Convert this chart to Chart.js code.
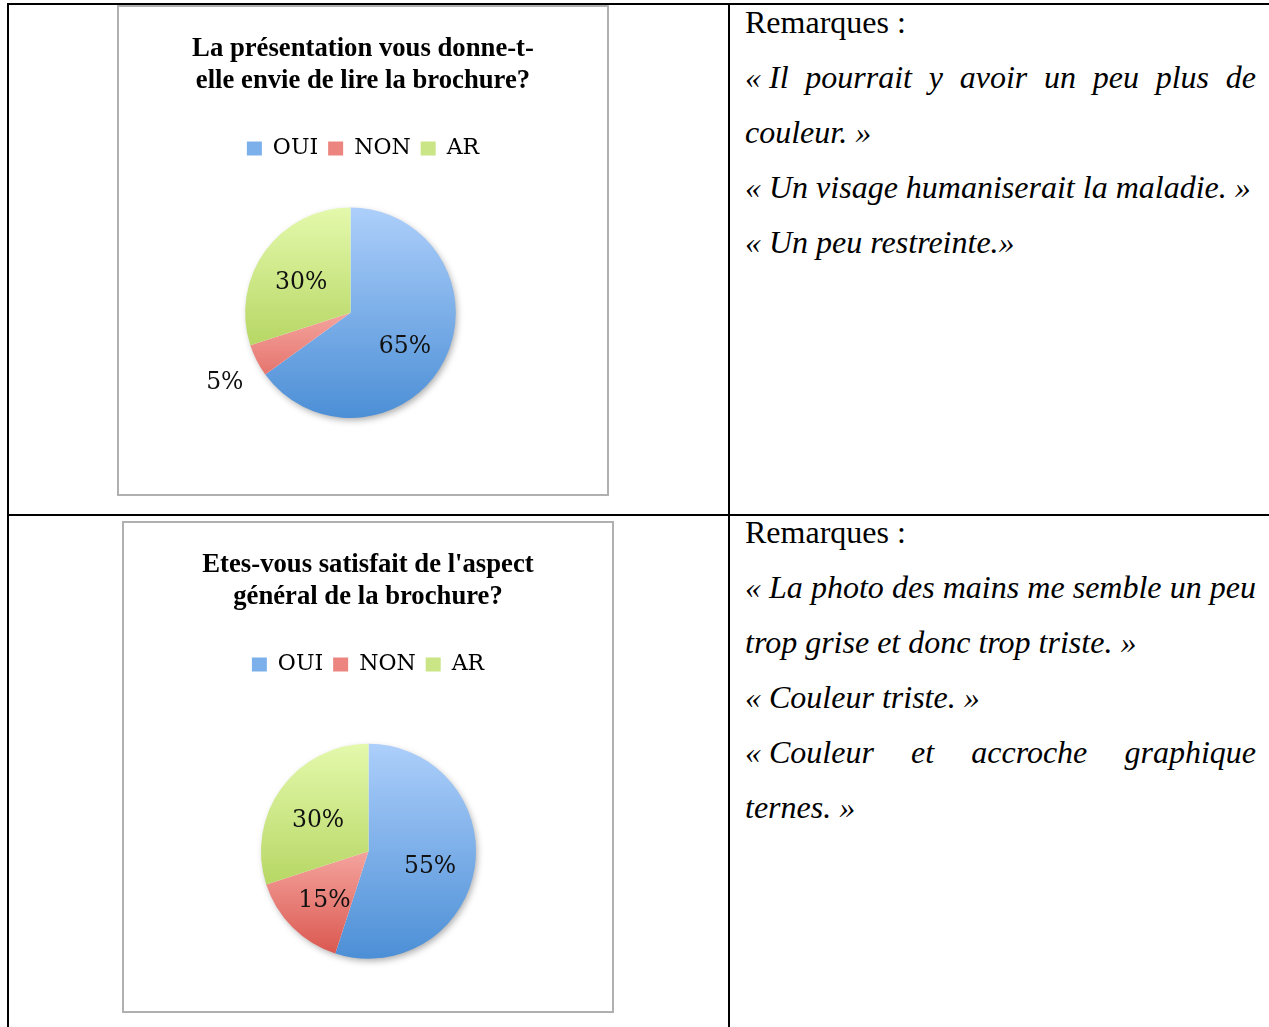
<!DOCTYPE html>
<html lang="fr">
<head>
<meta charset="utf-8">
<title>Brochure - avis des lecteurs</title>
<script src="https://cdn.jsdelivr.net/npm/chart.js@4.4.1/dist/chart.umd.min.js"></script>
<style>
  body { margin: 0; background: #fff; width: 1269px; height: 1027px; position: relative; overflow: hidden; }
  .line { position: absolute; background: #000; }
  .box { position: absolute; box-sizing: border-box; border: 2px solid #b0b0b0; background: #fff; }
  .box canvas { display: block; }
  .rem { position: absolute; left: 745px; width: 511px; font-family: 'Liberation Serif', 'Times New Roman', serif; font-size: 32px; line-height: 55px; color: #000; }
  .rem div { white-space: nowrap; }
  .rem .j { text-align: justify; text-align-last: justify; }
  .rem .q { font-style: italic; }
  .rem .nb { display: inline-block; }
</style>
</head>
<body>
<div class="line" style="left:7px; top:3px; width:1262px; height:2px;"></div>
<div class="line" style="left:7px; top:3px; width:2px; height:1024px;"></div>
<div class="line" style="left:728px; top:3px; width:2px; height:1024px;"></div>
<div class="line" style="left:7px; top:514px; width:1262px; height:2px;"></div>

<div class="box" style="left:117px; top:5px; width:492px; height:491px;">
  <canvas id="chart1" width="488" height="487"></canvas>
</div>
<div class="box" style="left:122px; top:521px; width:492px; height:492px;">
  <canvas id="chart2" width="488" height="488"></canvas>
</div>

<div class="rem" style="top:-5px;">
  <div>Remarques :</div>
  <div class="q j"><span class="nb">«&nbsp;Il</span> pourrait y avoir un peu plus de</div>
  <div class="q">couleur. »</div>
  <div class="q">« Un visage humaniserait la maladie. »</div>
  <div class="q">« Un peu restreinte.»</div>
</div>
<div class="rem" style="top:505px;">
  <div>Remarques :</div>
  <div class="q j"><span class="nb">«&nbsp;La</span> photo des mains me semble un peu</div>
  <div class="q">trop grise et donc trop triste. »</div>
  <div class="q">« Couleur triste. »</div>
  <div class="q j"><span class="nb">«&nbsp;Couleur</span> et accroche graphique</div>
  <div class="q">ternes. »</div>
</div>

<script>
const categories = ['OUI', 'NON', 'AR'];
const title1 = ['La présentation vous donne-t-', 'elle envie de lire la brochure?'];
const values1 = [65, 5, 30];
const title2 = ["Etes-vous satisfait de l'aspect", 'général de la brochure?'];
const values2 = [55, 15, 30];

// dégradés façon Excel (clair en haut, foncé en bas)
const shades = [
  { light: '#adcffb', dark: '#4c8fd6', legend: '#7cb0ea', from: 0, to: 1 },
  { light: '#f7aca6', dark: '#d9544c', legend: '#ec857f', from: 0.45, to: 1 },
  { light: '#e4f9ac', dark: '#b0d25a', legend: '#c9e585', from: 0, to: 0.75 }
];

function sliceFill(c) {
  const s = shades[c.dataIndex];
  const area = c.chart.chartArea;
  if (!area) return s.legend;
  const g = c.chart.ctx.createLinearGradient(0, area.top, 0, area.bottom);
  g.addColorStop(s.from, s.light);
  g.addColorStop(s.to, s.dark);
  return g;
}

// zone de tracé placée à la main, comme dans Excel
const plotInset = {
  id: 'plotInset',
  afterLayout(chart, args, opts) {
    const a = chart.chartArea;
    a.left += opts.left || 0;
    a.right -= opts.right || 0;
    a.top += opts.top || 0;
    a.bottom -= opts.bottom || 0;
    a.width = a.right - a.left;
    a.height = a.bottom - a.top;
  }
};

const pieShadow = {
  id: 'pieShadow',
  beforeDatasetsDraw(chart) {
    const arc = chart.getDatasetMeta(0).data[0];
    if (!arc) return;
    const { x, y, outerRadius } = arc.getProps(['x', 'y', 'outerRadius'], true);
    const ctx = chart.ctx;
    ctx.save();
    ctx.shadowColor = 'rgba(0,0,0,0.35)';
    ctx.shadowBlur = 7;
    ctx.shadowOffsetX = 2;
    ctx.shadowOffsetY = 3;
    ctx.fillStyle = '#fff';
    ctx.beginPath();
    ctx.arc(x, y, outerRadius - 1, 0, Math.PI * 2);
    ctx.fill();
    ctx.restore();
  }
};

const sliceLabels = {
  id: 'sliceLabels',
  afterDatasetsDraw(chart) {
    const ctx = chart.ctx;
    const vals = chart.data.datasets[0].data;
    const total = vals.reduce((a, b) => a + b, 0);
    ctx.save();
    ctx.font = '23.5px "DejaVu Serif"';
    ctx.fillStyle = '#111';
    ctx.textAlign = 'center';
    ctx.textBaseline = 'middle';
    chart.getDatasetMeta(0).data.forEach((arc, i) => {
      const { x, y, startAngle, endAngle, outerRadius } =
        arc.getProps(['x', 'y', 'startAngle', 'endAngle', 'outerRadius'], true);
      const mid = (startAngle + endAngle) / 2;
      const share = vals[i] / total;
      // petites parts : étiquette à l'extérieur
      const r = outerRadius * (share < 0.1 ? 1.34 : 0.58);
      ctx.fillText(Math.round(share * 100) + '%', x + Math.cos(mid) * r, y + Math.sin(mid) * r + 6);
    });
    ctx.restore();
  }
};

function makePie(id, title, values, inset) {
  return new Chart(document.getElementById(id), {
    type: 'pie',
    data: {
      labels: categories,
      datasets: [{
        data: values,
        backgroundColor: sliceFill,
        borderWidth: 0
      }]
    },
    plugins: [plotInset, pieShadow, sliceLabels],
    options: {
      responsive: false,
      animation: false,
      layout: { padding: 0 },
      plugins: {
        plotInset: inset,
        tooltip: { enabled: false },
        title: {
          display: true,
          text: title,
          color: '#000',
          font: { family: 'Liberation Serif', size: 26.7, weight: 'bold', lineHeight: 32 / 26.7 },
          padding: { top: 26, bottom: 30.4 }
        },
        legend: {
          position: 'top',
          labels: {
            boxWidth: 15,
            boxHeight: 14,
            padding: 10,
            color: '#1a1a1a',
            font: { family: 'DejaVu Serif', size: 22 },
            generateLabels: (chart) => chart.data.labels.map((text, i) => ({
              text,
              fillStyle: shades[i].legend,
              strokeStyle: shades[i].legend,
              lineWidth: 0,
              hidden: false,
              index: i
            }))
          }
        }
      }
    }
  });
}

makePie('chart1', title1, values1, { left: 126, right: 151, top: 38, bottom: 76 });
makePie('chart2', title2, values2, { left: 137, right: 136, top: 58, bottom: 52 });
</script>
</body>
</html>
